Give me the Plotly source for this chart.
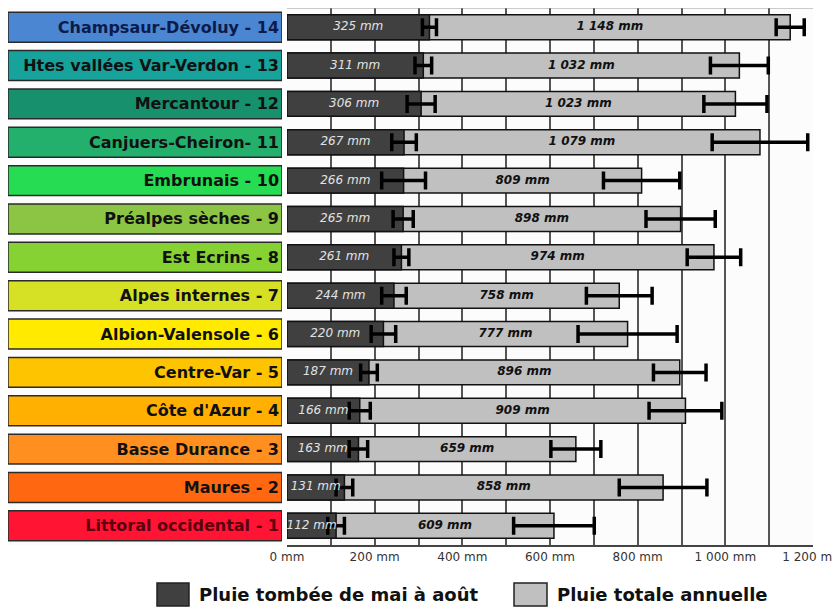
import plotly.graph_objects as go

regions = [
    "Champsaur-Dévoluy - 14", "Htes vallées Var-Verdon - 13", "Mercantour - 12",
    "Canjuers-Cheiron- 11", "Embrunais - 10", "Préalpes sèches - 9", "Est Ecrins - 8",
    "Alpes internes - 7", "Albion-Valensole - 6", "Centre-Var - 5", "Côte d'Azur - 4",
    "Basse Durance - 3", "Maures - 2", "Littoral occidental - 1",
]
region_colors = [
    "#4a86d2", "#17a29c", "#17906e", "#22b06c", "#26dc52", "#8cc444", "#86d232",
    "#d6e024", "#ffea00", "#ffc400", "#ffb000", "#ff9020", "#ff6810", "#ff1434",
]
region_text_colors = ["#0d1b4a"] + ["#111111"] * 12 + ["#5a0010"]

summer = [325, 311, 306, 267, 266, 265, 261, 244, 220, 187, 166, 163, 131, 112]
summer_err = [16, 19, 32, 28, 50, 23, 17, 28, 28, 19, 24, 21, 19, 19]
annual = [1148, 1032, 1023, 1079, 809, 898, 974, 758, 777, 896, 909, 659, 858, 609]
annual_err = [32, 66, 72, 109, 87, 79, 61, 75, 113, 60, 83, 57, 100, 92]

tick_vals = [0, 100, 200, 300, 400, 500, 600, 700, 800, 900, 1000, 1100, 1200]
tick_text = ["0 mm", "", "200 mm", "", "400 mm", "", "600 mm", "", "800 mm", "",
             "1 000 mm", "", "1 200 mm"]

legend_names = ["Pluie tombée de mai à août", "Pluie totale annuelle"]

# The page body adds an 8 px margin, so the figure is drawn 8 px smaller
OFF = 8
W, H = 840 - OFF, 610 - OFF


def px(X):
    return min(1.0, max(0.0, (X - OFF) / W))


def py(Y):
    return min(1.0, max(0.0, 1 - (Y - OFF) / H))


def fmt(v):
    return f"{v:,}".replace(",", " ") + " mm"


fig = go.Figure()

# Region label boxes
fig.add_trace(go.Bar(
    y=regions, x=[1] * len(regions), orientation="h", xaxis="x2", yaxis="y",
    width=0.78,
    marker=dict(color=region_colors, line=dict(color="#2a2a2a", width=1.5)),
    text=regions, textposition="inside", insidetextanchor="end", textangle=0,
    constraintext="none",
    textfont=dict(family="DejaVu Sans", size=16, color=region_text_colors, weight="bold"),
    hoverinfo="skip", showlegend=False,
))

# Annual total bars
fig.add_trace(go.Bar(
    y=regions, x=annual, orientation="h", name=legend_names[1], width=0.65,
    marker=dict(color="#c0c0c0", line=dict(color="#111111", width=1.5)),
    error_x=dict(type="data", array=annual_err, color="#000000", thickness=3.5, width=9),
    showlegend=False,
))

# Summer bars
fig.add_trace(go.Bar(
    y=regions, x=summer, orientation="h", name=legend_names[0], width=0.65,
    marker=dict(color="#404040", line=dict(color="#111111", width=1.5)),
    error_x=dict(type="data", array=summer_err, color="#000000", thickness=3.5, width=9),
    showlegend=False,
))

# Value labels
fig.add_trace(go.Scatter(
    y=regions, x=[s / 2 for s in summer], mode="text",
    text=[fmt(s) for s in summer], textposition="middle center",
    textfont=dict(family="DejaVu Sans", size=12, color="#e2e2e2", style="italic"),
    hoverinfo="skip", showlegend=False, cliponaxis=False,
))
fig.add_trace(go.Scatter(
    y=regions, x=[(s + a) / 2 for s, a in zip(summer, annual)], mode="text",
    text=[fmt(a) for a in annual], textposition="middle center",
    textfont=dict(family="DejaVu Sans", size=12, color="#111111", style="italic",
                  weight="bold"),
    hoverinfo="skip", showlegend=False, cliponaxis=False,
))

# Custom legend
legend_fill = ["#404040", "#c0c0c0"]
legend_box_x = [(157, 189), (514, 547)]
legend_text_x = [197, 555]
for (x0, x1), tx, col, name in zip(legend_box_x, legend_text_x, legend_fill, legend_names):
    fig.add_shape(type="rect", xref="paper", yref="paper",
                  x0=px(x0), x1=px(x1), y0=py(606), y1=py(583),
                  fillcolor=col, line=dict(color="#222222", width=1.5))
    fig.add_annotation(xref="paper", yref="paper", x=px(tx), y=py(594.5),
                       xanchor="left", yanchor="middle", text=name, showarrow=False,
                       font=dict(family="DejaVu Sans", size=18, color="#111111",
                                 weight="bold"))

# Top and right border of plot area
fig.add_shape(type="line", xref="x domain", yref="y domain", x0=0, x1=1, y0=1, y1=1,
              line=dict(color="#9a9a9a", width=1))

n = len(regions)
fig.update_layout(
    width=W, height=H, margin=dict(l=0, r=0, t=0, b=0, autoexpand=False),
    paper_bgcolor="#ffffff", plot_bgcolor="#fcfcfc",
    barmode="overlay", bargap=0.3,
    font=dict(family="DejaVu Sans"),
    xaxis=dict(domain=[px(287), px(813)], range=[0, 1200], tickvals=tick_vals,
               ticktext=tick_text, showgrid=True, gridcolor="#555555", gridwidth=2,
               showline=True, linecolor="#444444", linewidth=2, zeroline=False,
               tickfont=dict(size=12, color="#333333"), ticks="", anchor="y",
               automargin=False, ticklabeloverflow="allow"),
    xaxis2=dict(domain=[px(8), px(282)], range=[0, 1], visible=False, anchor="y",
                automargin=False),
    yaxis=dict(domain=[py(545), py(6)], range=[n - 0.5, -0.5], automargin=False,
               type="category", categoryorder="array", categoryarray=regions,
               showticklabels=False, showgrid=False, zeroline=False, ticks=""),
    showlegend=False,
)

fig.write_html("out.html")
